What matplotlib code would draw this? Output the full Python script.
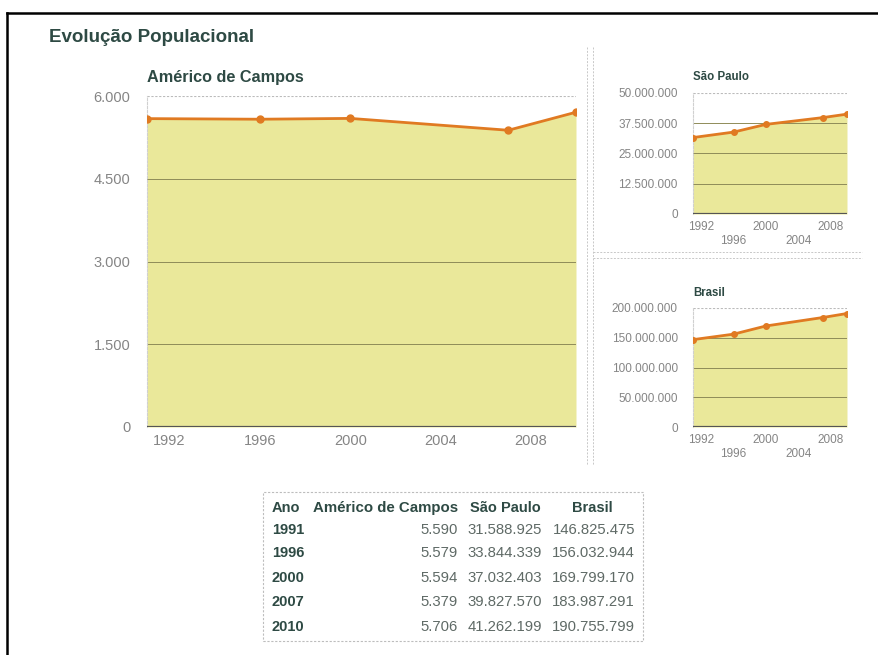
import matplotlib.pyplot as plt
from matplotlib.lines import Line2D
from matplotlib.patches import Rectangle

plt.rcParams['font.family'] = ['Liberation Sans', 'DejaVu Sans']

anos = [1991, 1996, 2000, 2007, 2010]
americo = [5590, 5579, 5594, 5379, 5706]
sao_paulo = [31588925, 33844339, 37032403, 39827570, 41262199]
brasil = [146825475, 156032944, 169799170, 183987291, 190755799]

ticks_americo = [0, 1500, 3000, 4500, 6000]
ticks_sp = [0, 12500000, 25000000, 37500000, 50000000]
ticks_br = [0, 50000000, 100000000, 150000000, 200000000]
anos_eixo = [1992, 1996, 2000, 2004, 2008]

W, H = 879, 655
AMARELO = '#EAE89A'
LARANJA = '#E07A22'
VERDE = '#2E4A44'
CINZA = '#858585'


def fmt(v):
    return f"{int(v):,}".replace(',', '.')


def caixa(x0, y0, x1, y1):
    # pixel box (top-left origin) -> figure rect
    return [x0 / W, 1 - y1 / H, (x1 - x0) / W, (y1 - y0) / H]


def grafico(ax, valores, yticks, titulo, fs_tick, fs_tit, pad_y, escalonado, ms):
    ax.fill_between(anos, valores, 0, color=AMARELO, lw=0, zorder=1)
    for t in yticks[1:-1]:
        ax.axhline(t, color='#8f8c58', lw=0.7, zorder=2)
    ax.axhline(yticks[-1], color='#bbbbbb', lw=0.8, ls=(0, (2, 1.5)), zorder=2)
    ax.axhline(0, color='#555555', lw=1.6, zorder=3)
    ax.plot(anos, valores, color=LARANJA, lw=2, marker='o', ms=ms, zorder=4)
    ax.set_xlim(1991, 2010)
    ax.set_ylim(0, yticks[-1])
    ax.set_yticks(yticks)
    ax.set_yticklabels([fmt(t) for t in yticks])
    if escalonado:
        ax.set_xticks([1992, 2000, 2008])
        ax.set_xticklabels(['1992', '2000', '2008'])
        ax.set_xticks([1996, 2004], minor=True)
        ax.set_xticklabels(['1996', '2004'], minor=True)
        ax.tick_params(axis='x', which='minor', length=0, pad=15,
                       labelsize=fs_tick, labelcolor=CINZA)
        ax.tick_params(axis='x', which='major', pad=5)
    else:
        ax.set_xticks(anos_eixo)
        ax.set_xticklabels([str(a) for a in anos_eixo])
        ax.tick_params(axis='x', which='major', pad=5)
    ax.tick_params(axis='both', which='major', length=0, labelsize=fs_tick,
                   labelcolor=CINZA)
    ax.tick_params(axis='y', pad=pad_y)
    for s in ax.spines.values():
        s.set_visible(False)
    ax.spines['left'].set_visible(True)
    ax.spines['left'].set_color('#d0d0d0')
    ax.spines['left'].set_linestyle((0, (2, 1.5)))
    ax.spines['left'].set_linewidth(0.8)
    ax.set_title(titulo, loc='left', fontsize=fs_tit, fontweight='bold',
                 color=VERDE, pad=10 if not escalonado else 9, x=0.0)


fig = plt.figure(figsize=(W / 100, H / 100), dpi=100)

ax1 = fig.add_axes(caixa(147, 96, 576, 427))
grafico(ax1, americo, ticks_americo, 'Américo de Campos', 10.5, 11.7, 12, False, 5)

ax2 = fig.add_axes(caixa(693, 93, 847, 214))
grafico(ax2, sao_paulo, ticks_sp, 'São Paulo', 8.5, 8.3, 11, True, 4)

ax3 = fig.add_axes(caixa(693, 308, 847, 427))
grafico(ax3, brasil, ticks_br, 'Brasil', 8.5, 8.3, 11, True, 4)

# page title
fig.text(49 / W, 1 - 38 / H, 'Evolução Populacional', fontsize=13.5,
         fontweight='bold', color=VERDE, va='center', ha='left')

# dotted separators between panels
pix = fig.transFigure
for x in (587, 593):
    fig.add_artist(Line2D([x / W, x / W], [1 - 47 / H, 1 - 465 / H],
                          color='#c8c8c8', lw=0.7, ls=(0, (2, 1.5)), transform=pix))
for y in (252, 258):
    fig.add_artist(Line2D([593 / W, 862 / W], [1 - y / H, 1 - y / H],
                          color='#c8c8c8', lw=0.7, ls=(0, (2, 1.5)), transform=pix))

# outer frame (top and left edges)
fig.add_artist(Line2D([7 / W, 1.0], [1 - 12.5 / H, 1 - 12.5 / H],
                      color='black', lw=1.8, transform=pix))
fig.add_artist(Line2D([7 / W, 7 / W], [0.0, 1 - 12.5 / H],
                      color='black', lw=1.8, transform=pix))

# data table
fig.add_artist(Rectangle((263 / W, 1 - 641 / H), (643 - 263) / W, (641 - 492) / H,
                         fill=False, ec='#bdbdbd', lw=0.8, ls=(0, (2, 1.5)),
                         transform=pix))
cab_y = 508
fig.text(272 / W, 1 - cab_y / H, 'Ano', fontsize=10.5, fontweight='bold',
         color=VERDE, va='center', ha='left')
fig.text(458 / W, 1 - cab_y / H, 'Américo de Campos', fontsize=10.8,
         fontweight='bold', color=VERDE, va='center', ha='right')
fig.text(505 / W, 1 - cab_y / H, 'São Paulo', fontsize=10.5, fontweight='bold',
         color=VERDE, va='center', ha='center')
fig.text(592 / W, 1 - cab_y / H, 'Brasil', fontsize=10.5, fontweight='bold',
         color=VERDE, va='center', ha='center')

linhas_y = [530, 553, 578, 602, 627]
for ano, a, s, b, y in zip(anos, americo, sao_paulo, brasil, linhas_y):
    fy = 1 - y / H
    fig.text(272 / W, fy, str(ano), fontsize=10.5, fontweight='bold',
             color=VERDE, va='center', ha='left')
    fig.text(458 / W, fy, fmt(a), fontsize=10.7, color='#5f6a66', va='center', ha='right')
    fig.text(542 / W, fy, fmt(s), fontsize=10.7, color='#5f6a66', va='center', ha='right')
    fig.text(635 / W, fy, fmt(b), fontsize=10.7, color='#5f6a66', va='center', ha='right')

fig.savefig('out.png', dpi=100)
